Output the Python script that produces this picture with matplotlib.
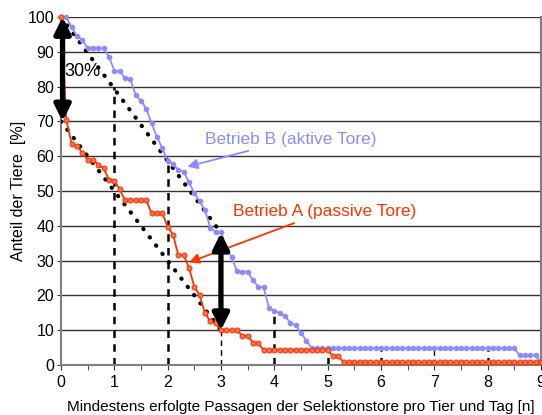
import numpy as np
import matplotlib.pyplot as plt

plt.rcParams['font.family'] = ['Liberation Sans', 'DejaVu Sans']

# passages per animal and day (x grid of the curves)
passagen = np.linspace(0, 9, 91)

betrieb_a = [100, 70.5, 63.5, 63, 61, 59, 59, 57.5, 56.5, 53.2,
             53, 50.5, 47.3, 47.3, 47.3, 47.3, 47.3, 43.6, 43.6, 43.6,
             39.7, 37.5, 31.6, 31.6, 28, 22.5, 20, 15, 12.5, 12,
             10, 10, 10, 10, 8.4, 8.4, 6.4, 6.2, 4.3, 4.3,
             4.3, 4.3, 4.3, 4.3, 4.3, 4.3, 4.3, 4.3, 4.3, 4.3,
             4.3, 2.6, 2.6, 0.8, 0.8, 0.8, 0.8, 0.8, 0.8, 0.8,
             0.8, 0.8, 0.8, 0.8, 0.8, 0.8, 0.8, 0.8, 0.8, 0.8,
             0.8, 0.8, 0.8, 0.8, 0.8, 0.8, 0.8, 0.8, 0.8, 0.8,
             0.8, 0.8, 0.8, 0.8, 0.8, 0.8, 0.8, 0.8, 0.8, 0.8,
             0.8]

betrieb_b = [100, 100, 97, 94.5, 93.5, 91, 91, 91, 91, 88.6,
             84.6, 84.5, 82.4, 82.2, 77.6, 76, 73.6, 69.5, 65.5, 62.4,
             58.5, 57.8, 56, 55.6, 52.5, 49.4, 47, 44.5, 39.5, 38.2,
             38.2, 33.5, 31, 27, 26.8, 26.8, 24.4, 22.5, 22.3, 16.5,
             15.6, 15, 14, 12.2, 11.4, 9.3, 7, 4.8, 4.8, 4.8,
             4.8, 4.8, 4.8, 4.8, 4.8, 4.8, 4.8, 4.8, 4.8, 4.8,
             4.8, 4.8, 4.8, 4.8, 4.8, 4.8, 4.8, 4.8, 4.8, 4.8,
             4.8, 4.8, 4.8, 4.8, 4.8, 4.8, 4.8, 4.8, 4.8, 4.8,
             4.8, 4.8, 4.8, 4.8, 4.8, 4.8, 2.8, 2.8, 2.8, 2.8,
             0.8]

# dashed verticals at integer passages and their top ends
vline_x = [1, 2, 3, 4, 5, 6, 7, 8]
vline_top = [80, 59, 10, 15.6, 4.8, 4.8, 4.8, 4.8]
vline_thin = [False, False, True, False, False, False, True, False]

# dotted reference lines (start, end)
ref_upper = ([0, 3], [100, 38])
ref_lower = ([0, 3], [70, 10])

blau = '#8C8CFF'
rot = '#FF3300'

fig = plt.figure(figsize=(5.42, 4.15), dpi=100)
ax = fig.add_axes([0.1125, 0.1205, 0.8855, 0.8385])

ax.set_xlim(0, 9)
ax.set_ylim(0, 100)
ax.set_yticks(np.arange(0, 101, 10))
ax.set_xticks(range(10))
ax.set_xticks(np.arange(0.5, 9, 1), minor=True)
for yv in range(10, 101, 10):
    ax.axhline(yv, color='#333333', lw=1, zorder=1)

for sp in ['left', 'bottom', 'right']:
    ax.spines[sp].set_color('#808080')
    ax.spines[sp].set_linewidth(1.5)
ax.spines['top'].set_visible(False)
ax.tick_params(axis='both', which='both', color='#333333', labelsize=11.5, direction='out')
ax.tick_params(axis='x', which='both', length=3.5, pad=4)
ax.tick_params(axis='y', length=3, pad=2)

for xv, top, thin in zip(vline_x, vline_top, vline_thin):
    ax.plot([xv, xv], [0, top], color='k', lw=1 if thin else 1.8,
            ls=(0, (3, 2.5)) if not thin else (0, (4, 3)), zorder=2)

ax.plot(ref_upper[0], ref_upper[1], color='k', lw=3, ls=(0, (0.1, 2.4)),
        dash_capstyle='round', zorder=3)
ax.plot(ref_lower[0], ref_lower[1], color='k', lw=3, ls=(0, (0.1, 2.4)),
        dash_capstyle='round', zorder=3)

ax.plot(passagen, betrieb_b, color=blau, lw=1.3, marker='o', ms=3,
        mfc=blau, mec=blau, zorder=4, clip_on=False)
ax.plot(passagen, betrieb_a, color=rot, lw=1.3, marker='o', ms=3.5,
        mfc='#FF7755', mec=rot, mew=0.8, zorder=5, clip_on=False)

# big double arrows
big = dict(arrowstyle='<|-|>', color='k', lw=3.8, mutation_scale=24,
           shrinkA=0, shrinkB=0)
ax.annotate('', xy=(0.03, 100), xytext=(0.03, 70), arrowprops=big, zorder=6,
            annotation_clip=False)
ax.annotate('', xy=(3, 38), xytext=(3, 10), arrowprops=big, zorder=6)
ax.text(0.07, 84.3, '30%', fontsize=13, va='center', ha='left', zorder=7)

ax.annotate('Betrieb B (aktive Tore)', xy=(2.37, 57), xytext=(2.7, 64.7),
            color=blau, fontsize=12.5, va='center', ha='left',
            arrowprops=dict(arrowstyle='-|>', color=blau, lw=1.3,
                            mutation_scale=15, shrinkA=2, shrinkB=0))
ax.annotate('Betrieb A (passive Tore)', xy=(2.4, 29.5), xytext=(3.22, 44),
            color=rot, fontsize=12.5, va='center', ha='left',
            arrowprops=dict(arrowstyle='-|>', color=rot, lw=1.3,
                            mutation_scale=15, shrinkA=2, shrinkB=0))

ax.set_xlabel('Mindestens erfolgte Passagen der Selektionstore pro Tier und Tag [n]',
              fontsize=11, labelpad=7)
ax.set_ylabel('Anteil der Tiere  [%]', fontsize=11.5, labelpad=1)

fig.savefig('out.png', dpi=100)
